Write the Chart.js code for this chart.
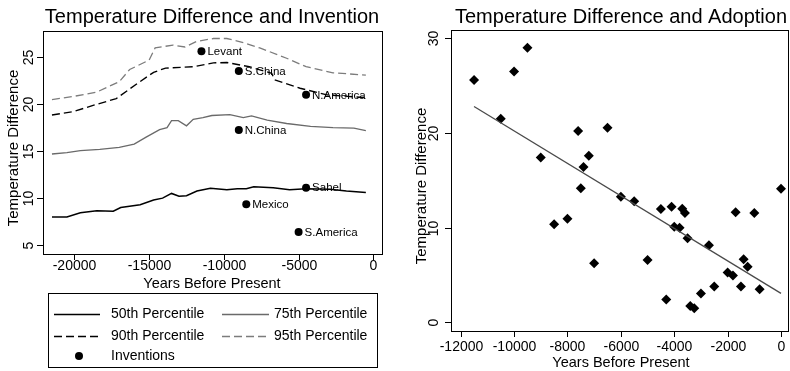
<!DOCTYPE html>
<html>
<head>
<meta charset="utf-8">
<script src="https://cdn.jsdelivr.net/npm/chart.js@4.4.1/dist/chart.umd.min.js"></script>
<style>
  html, body { margin: 0; padding: 0; background: #fff; }
  #wrap { position: relative; width: 790px; height: 371px; }
  canvas { position: absolute; top: 0; }
</style>
</head>
<body>
<div id="wrap">
  <canvas id="leftChart" width="395" height="371" style="left:0"></canvas>
  <canvas id="rightChart" width="395" height="371" style="left:395px"></canvas>
</div>
<script>
// left panel: temperature difference percentiles over time
const p95Years = [-21500, -20000, -18500, -17000, -16300, -15000, -14600, -13400, -12600, -11800, -10700, -9800, -8900, -7600, -5800, -4500, -2700, -500];
const p95Temp  = [20.5, 20.85, 21.3, 22.4, 23.7, 24.7, 26.0, 26.3, 26.1, 26.7, 27.0, 27.0, 26.65, 26.0, 24.9, 24.0, 23.35, 23.1];

const p90Years = [-21500, -20100, -18700, -17200, -15800, -14700, -13900, -12000, -10700, -9800, -8300, -6800, -6600, -4900, -3100, -500];
const p90Temp  = [18.85, 19.2, 19.9, 20.6, 22.2, 23.4, 23.85, 24.0, 24.4, 24.45, 24.0, 23.3, 22.6, 21.7, 21.0, 20.7];

const p75Years = [-21500, -20500, -19600, -18300, -17000, -16000, -15200, -14300, -13800, -13500, -13050, -12500, -12050, -11400, -10800, -9600, -8700, -8150, -7100, -5800, -4200, -2700, -1300, -500];
const p75Temp  = [14.7, 14.85, 15.05, 15.2, 15.4, 15.75, 16.5, 17.3, 17.5, 18.25, 18.25, 17.7, 18.4, 18.57, 18.8, 18.9, 18.57, 18.75, 18.3, 17.95, 17.65, 17.5, 17.45, 17.2];

const p50Years = [-21500, -20500, -19600, -18500, -17400, -16900, -15600, -14700, -14100, -13500, -13000, -12500, -11800, -10900, -9800, -9100, -8500, -8000, -6700, -5600, -4500, -2900, -1800, -500];
const p50Temp  = [8.0, 8.0, 8.45, 8.65, 8.6, 9.0, 9.3, 9.8, 10.0, 10.5, 10.2, 10.25, 10.75, 11.05, 10.9, 11.0, 11.0, 11.2, 11.1, 10.9, 11.0, 10.95, 10.75, 10.6];

const invNames = ['Levant', 'S.China', 'N.America', 'N.China', 'Sahel', 'Mexico', 'S.America'];
const invYears = [-11500, -9000, -4500, -9000, -4500, -8500, -5000];
const invTemp  = [25.65, 23.55, 21.0, 17.25, 11.1, 9.35, 6.4];

const leftXTicks = [-20000, -15000, -10000, -5000, 0];
const leftYTicks = [5, 10, 15, 20, 25];

// right panel: adoption scatter + fitted line
const adoptYears = [-11500, -10500, -10000, -9500, -9000, -8500, -8000, -7600, -7500, -7400, -7200, -7000, -6500, -6000, -5500, -5000, -4500, -4300, -4100, -4000, -3800, -3700, -3600, -3500, -3400, -3250, -3000, -2700, -2500, -2000, -1800, -1700, -1500, -1400, -1250, -1000, -800, 0];
const adoptTemp  = [25.6, 21.5, 26.5, 29.0, 17.4, 10.35, 10.95, 20.2, 14.15, 16.4, 17.6, 6.25, 20.56, 13.27, 12.8, 6.58, 11.97, 2.4, 12.2, 10.1, 10.0, 12.0, 11.55, 8.87, 1.72, 1.48, 3.05, 8.15, 3.77, 5.25, 4.95, 11.62, 3.78, 6.65, 5.88, 11.55, 3.5, 14.1];
const fitYears = [-11500, 0];
const fitTemp  = [22.8, 3.05];

const rightXTicks = [-12000, -10000, -8000, -6000, -4000, -2000, 0];
const rightYTicks = [0, 10, 20, 30];

const FONT = '"Liberation Sans", Arial, Helvetica, sans-serif';

function pts(xs, ys) {
    return xs.map((x, i) => ({ x: x, y: ys[i] }));
}

// draws the stata style frame, ticks, rotated y labels and titles
function stataFrame(o) {
    return {
        id: 'stataFrame',
        afterDraw(chart) {
            const ctx = chart.ctx;
            const a = chart.chartArea;
            const xs = chart.scales.x, ys = chart.scales.y;
            ctx.save();
            ctx.strokeStyle = '#000';
            ctx.fillStyle = '#000';
            ctx.lineWidth = 1;
            ctx.strokeRect(Math.round(a.left) + 0.5, Math.round(a.top) + 0.5,
                Math.round(a.right - a.left), Math.round(a.bottom - a.top));

            ctx.font = '14px ' + FONT;
            ctx.textAlign = 'center';
            ctx.textBaseline = 'middle';
            o.xTicks.forEach(v => {
                const px = Math.round(xs.getPixelForValue(v)) + 0.5;
                ctx.beginPath();
                ctx.moveTo(px, a.bottom);
                ctx.lineTo(px, a.bottom + 6);
                ctx.stroke();
                ctx.fillText(String(v), px, a.bottom + o.xLabelGap);
            });
            o.yTicks.forEach(v => {
                const py = Math.round(ys.getPixelForValue(v)) + 0.5;
                ctx.beginPath();
                ctx.moveTo(a.left - 6, py);
                ctx.lineTo(a.left, py);
                ctx.stroke();
                ctx.save();
                ctx.translate(o.yLabelX, py);
                ctx.rotate(-Math.PI / 2);
                ctx.fillText(String(v), 0, 0);
                ctx.restore();
            });

            // axis titles
            ctx.font = '14.5px ' + FONT;
            ctx.fillText(o.xTitle, o.xTitleX, o.xTitleY);
            ctx.save();
            ctx.translate(o.yTitleX, o.yTitleY);
            ctx.rotate(-Math.PI / 2);
            ctx.font = '15px ' + FONT;
            ctx.fillText(o.yTitle, 0, 0);
            ctx.restore();

            // chart title
            ctx.font = '20px ' + FONT;
            ctx.fillText(o.title, o.titleX, o.titleY);
            ctx.restore();
        }
    };
}

const inventionLabels = {
    id: 'inventionLabels',
    afterDatasetsDraw(chart) {
        const ctx = chart.ctx;
        const xs = chart.scales.x, ys = chart.scales.y;
        ctx.save();
        ctx.font = '11.5px ' + FONT;
        ctx.fillStyle = '#000';
        ctx.textAlign = 'left';
        ctx.textBaseline = 'middle';
        invNames.forEach((name, i) => {
            ctx.fillText(name, xs.getPixelForValue(invYears[i]) + 6, ys.getPixelForValue(invTemp[i]) + 0.5);
        });
        ctx.restore();
    }
};

// legend box under the left plot
const leftLegend = {
    id: 'leftLegend',
    afterDraw(chart) {
        const ctx = chart.ctx;
        const ds = chart.data.datasets;
        ctx.save();
        ctx.strokeStyle = '#000';
        ctx.lineWidth = 1;
        ctx.strokeRect(48.5, 293.5, 329, 74);
        ctx.font = '14px ' + FONT;
        ctx.fillStyle = '#000';
        ctx.textAlign = 'left';
        ctx.textBaseline = 'middle';
        const cells = [
            { d: ds[0], x0: 54, x1: 100, tx: 111, y: 314 },
            { d: ds[1], x0: 222, x1: 269, tx: 274, y: 314 },
            { d: ds[2], x0: 54, x1: 100, tx: 111, y: 336 },
            { d: ds[3], x0: 222, x1: 269, tx: 274, y: 336 }
        ];
        cells.forEach(c => {
            ctx.save();
            ctx.strokeStyle = c.d.borderColor;
            ctx.lineWidth = c.d.borderWidth;
            ctx.setLineDash(c.d.borderDash || []);
            ctx.beginPath();
            ctx.moveTo(c.x0, c.y + 0.5);
            ctx.lineTo(c.x1, c.y + 0.5);
            ctx.stroke();
            ctx.restore();
            ctx.fillText(c.d.label, c.tx, c.y);
        });
        ctx.beginPath();
        ctx.arc(79, 356, 4, 0, Math.PI * 2);
        ctx.fill();
        ctx.fillText(ds[4].label, 111, 356);
        ctx.restore();
    }
};

const hidden = { display: false };

new Chart(document.getElementById('leftChart'), {
    type: 'scatter',
    data: {
        datasets: [
            { label: '50th Percentile', data: pts(p50Years, p50Temp), showLine: true, pointRadius: 0,
              borderColor: '#000', borderWidth: 1.5 },
            { label: '75th Percentile', data: pts(p75Years, p75Temp), showLine: true, pointRadius: 0,
              borderColor: '#6a6a6a', borderWidth: 1.3 },
            { label: '90th Percentile', data: pts(p90Years, p90Temp), showLine: true, pointRadius: 0,
              borderColor: '#000', borderWidth: 1.4, borderDash: [8, 4] },
            { label: '95th Percentile', data: pts(p95Years, p95Temp), showLine: true, pointRadius: 0,
              borderColor: '#7c7c7c', borderWidth: 1.3, borderDash: [8, 4] },
            { label: 'Inventions', data: pts(invYears, invTemp), pointRadius: 4,
              backgroundColor: '#000', borderColor: '#000', borderWidth: 0 }
        ]
    },
    options: {
        responsive: false,
        animation: false,
        layout: { autoPadding: false, padding: { left: 43, right: 13, top: 31, bottom: 117 } },
        scales: {
            x: { type: 'linear', min: -22100, max: 580, display: false },
            y: { type: 'linear', min: 4.05, max: 27.8, display: false }
        },
        plugins: { legend: hidden, tooltip: { enabled: false } }
    },
    plugins: [inventionLabels, leftLegend, stataFrame({
        xTicks: leftXTicks, yTicks: leftYTicks,
        xLabelGap: 12, yLabelX: 29,
        xTitle: 'Years Before Present', xTitleX: 212, xTitleY: 284,
        yTitle: 'Temperature Difference', yTitleX: 14, yTitleY: 148,
        title: 'Temperature Difference and Invention', titleX: 212, titleY: 17
    })]
});

new Chart(document.getElementById('rightChart'), {
    type: 'scatter',
    data: {
        datasets: [
            { label: 'Fitted', data: pts(fitYears, fitTemp), showLine: true, pointRadius: 0,
              borderColor: '#4a4a4a', borderWidth: 1.3 },
            { label: 'Adoption', data: pts(adoptYears, adoptTemp), pointStyle: 'rectRot', pointRadius: 5,
              backgroundColor: '#000', borderColor: '#000', borderWidth: 0 }
        ]
    },
    options: {
        responsive: false,
        animation: false,
        layout: { autoPadding: false, padding: { left: 56, right: 2, top: 30, bottom: 40 } },
        scales: {
            x: { type: 'linear', min: -12363, max: 262, display: false },
            y: { type: 'linear', min: -0.92, max: 30.88, display: false }
        },
        plugins: { legend: hidden, tooltip: { enabled: false } }
    },
    plugins: [stataFrame({
        xTicks: rightXTicks, yTicks: rightYTicks,
        xLabelGap: 16, yLabelX: 39,
        xTitle: 'Years Before Present', xTitleX: 226, xTitleY: 363,
        yTitle: 'Temperature Difference', yTitleX: 27, yTitleY: 186,
        title: 'Temperature Difference and Adoption', titleX: 226, titleY: 17
    })]
});
</script>
</body>
</html>
